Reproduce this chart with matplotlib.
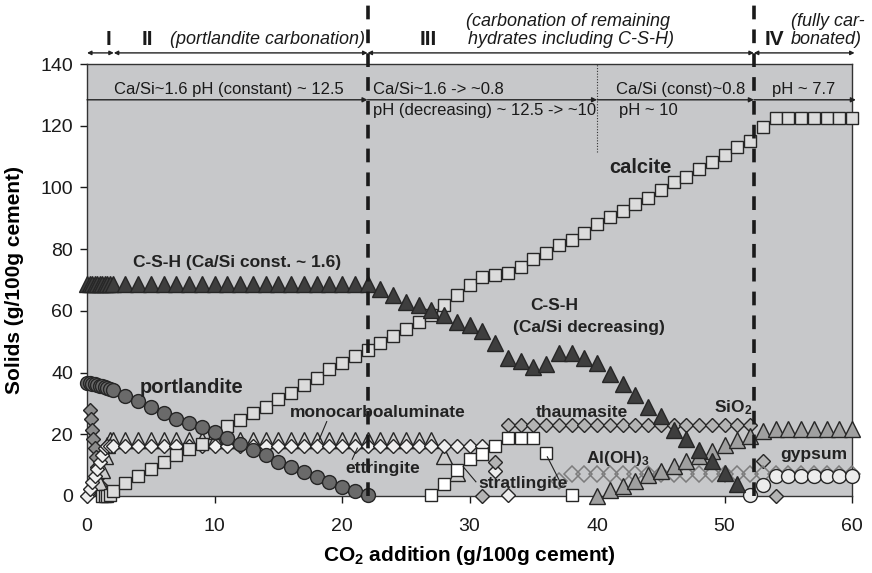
import matplotlib
matplotlib.use('Agg')
import matplotlib.pyplot as plt

plt.rcParams['font.family'] = ['Liberation Sans', 'DejaVu Sans']
plt.rcParams['mathtext.fontset'] = 'custom'
plt.rcParams['mathtext.rm'] = 'Liberation Sans'
plt.rcParams['mathtext.bf'] = 'Liberation Sans:bold'
plt.rcParams['mathtext.it'] = 'Liberation Sans:italic'

# CO2 steps used in period I (fine steps)
region1_x = [0, 0.2, 0.4, 0.6, 0.8, 1.0, 1.2, 1.4, 1.6, 1.8]

calcite_x = [1.2, 1.4, 1.6, 1.8] + list(range(2, 61))
calcite_y = [0, 0, 0, 0.3,
             1.7, 4.3, 6.5, 8.7, 11.0, 13.2, 15.2, 17.0, 20.3, 22.6, 24.5,
             27.0, 29.0, 31.3, 33.5, 36.0, 38.4, 41.0, 43.2, 45.3, 47.4,
             49.6, 51.7, 54.2, 56.5, 58.7, 62.0, 65.2, 68.4, 71.0, 71.6,
             72.2, 74.3, 76.7, 78.8, 81.3, 83.0, 85.3, 88.0, 90.3, 92.4,
             94.5, 96.7, 99.3, 101.7, 103.5, 106.0, 108.2, 110.6, 113.0, 115.2,
             119.5, 122.5, 122.5, 122.5, 122.5, 122.5, 122.5, 122.5]

portlandite_x = region1_x + list(range(2, 23))
portlandite_y = [36.6, 36.5, 36.4, 36.2, 36.0, 35.8, 35.6, 35.4, 35.1, 34.8,
                 34.5, 32.4, 30.7, 28.7, 27.0, 25.1, 23.8, 22.2, 20.6, 18.7, 16.8,
                 14.8, 13.2, 11.0, 9.3, 7.7, 6.1, 4.5, 3.0, 1.7, 0.3]

csh_x = region1_x + list(range(2, 52))
csh_y = [68.8, 68.8, 68.8, 68.8, 68.8, 68.8, 68.8, 68.8, 68.8, 68.8,
         68.8, 68.8, 68.8, 68.8, 68.8, 68.8, 68.8, 68.8, 68.8, 68.8, 68.8,
         68.8, 68.8, 68.8, 68.8, 68.8, 68.8, 68.8, 68.8, 68.8, 68.8,
         67.0, 65.0, 62.8, 62.0, 60.3, 58.8, 56.5, 55.4, 53.6, 49.5,
         44.7, 43.8, 41.9, 42.8, 46.5, 46.5, 44.8, 43.2, 39.6, 36.2,
         32.7, 29.0, 25.8, 21.5, 18.5, 14.9, 11.2, 7.3, 3.8]

monocarb_x = [1.0, 1.2, 1.4, 1.6, 1.8] + list(range(2, 30))
monocarb_y = [4.0, 8.5, 13.0, 16.5, 18.0,
              18.0, 18.0, 18.0, 18.0, 18.0, 18.0, 18.0, 18.0, 18.0, 18.0,
              18.0, 18.0, 18.0, 18.0, 18.0, 18.0, 18.0, 18.0, 18.0, 18.0,
              18.0, 18.0, 18.0, 18.0, 18.0, 18.0, 13.0, 7.6]

ettringite_x = region1_x + list(range(2, 34))
ettringite_y = [0, 2.2, 4.4, 6.6, 8.8, 11.0, 13.2, 15.4, 16.2, 16.2,
                16.2, 16.2, 16.2, 16.2, 16.2, 16.2, 16.2, 16.2, 16.2, 16.2,
                16.2, 16.2, 16.2, 16.2, 16.2, 16.2, 16.2, 16.2, 16.2, 16.2,
                16.2, 16.2, 16.2, 16.2, 16.2, 16.2, 16.2, 16.2, 16.2, 16.2,
                8.2, 0.3]

monosulfate_x = [0.2, 0.3, 0.4, 0.5, 0.6, 0.7, 0.8, 0.9, 1.0, 1.1]
monosulfate_y = [28.0, 25.0, 21.5, 18.5, 15.5, 12.5, 9.5, 6.5, 3.5, 0.5]

thaumasite_x = list(range(31, 55))
thaumasite_y = [0, 11.0,
                23.0, 23.0, 23.0, 23.0, 23.0, 23.0, 23.0, 23.0, 23.0, 23.0,
                23.0, 23.0, 23.0, 23.0, 23.0, 23.0, 23.0, 23.0, 23.0, 23.0,
                11.4, 0]

stratlingite_x = [27, 28, 29, 30, 31, 32, 33, 34, 35, 36, 38]
stratlingite_y = [0.4, 4.0, 8.5, 12.1, 13.5, 16.1, 18.8, 18.8, 18.8, 14.0, 0.2]

aloh3_x = list(range(37, 61))
aloh3_y = [4.8, 7.1, 7.1, 7.1, 7.1, 7.1, 7.1, 7.1, 7.1, 7.1, 7.1, 7.1,
           7.1, 7.1, 7.1, 7.1, 7.1, 7.1, 7.1, 7.1, 7.1, 7.1, 7.1, 7.1]

sio2_x = list(range(40, 61))
sio2_y = [0, 2.1, 3.3, 5.0, 6.7, 8.1, 9.6, 11.3, 13.1, 14.7, 16.5, 18.0,
          19.6, 21.0, 21.6, 21.6, 21.6, 21.6, 21.6, 21.6, 21.6]

gypsum_x = list(range(52, 61))
gypsum_y = [0.3, 3.6, 6.5, 6.5, 6.5, 6.5, 6.5, 6.5, 6.5]

# period boundaries (g CO2 / 100 g cement)
period_bounds = [0, 2.1, 22, 52.3, 60.2]
ph_bounds = [0, 22, 40, 52.3, 60.3]

edge = '#262626'
fig = plt.figure(figsize=(8.72, 5.73), dpi=100)
ax = fig.add_axes([0.0998, 0.1344, 0.8773, 0.7539])
ax.set_facecolor('#c7c8ca')
ax.set_xlim(0, 60)
ax.set_ylim(0, 140)


def draw(x, y, marker, ms, face, z, mec=edge, mew=1.0):
    ax.plot(x, y, linestyle='none', marker=marker, markersize=ms,
            markerfacecolor=face, markeredgecolor=mec, markeredgewidth=mew,
            zorder=z, clip_on=False)


draw(monosulfate_x, monosulfate_y, 'D', 7.0, '#8c8c8c', 3)
draw(monocarb_x, monocarb_y, '^', 11, '#cdcdcd', 3)
draw(ettringite_x, ettringite_y, 'D', 7.2, '#efefef', 4)
draw(thaumasite_x, thaumasite_y, 'D', 7.2, '#b4b4b4', 4)
draw(aloh3_x, aloh3_y, 'D', 8.4, 'none', 4, mec='#7c7c7c', mew=1.1)
draw(stratlingite_x, stratlingite_y, 's', 9, '#ffffff', 5)
draw(sio2_x, sio2_y, '^', 11, '#a0a0a0', 5)
draw(gypsum_x, gypsum_y, 'o', 10, '#ececec', 5)
draw(calcite_x, calcite_y, 's', 9, '#dcdcdc', 6)
draw(csh_x, csh_y, '^', 11, '#3e3e3e', 6)
draw(portlandite_x, portlandite_y, 'o', 10, '#6a6a6a', 7)

# period boundaries as thick dashed lines, running up into the header
for xb in [period_bounds[2], period_bounds[3]]:
    ax.plot([xb, xb], [0, 159], color='#1a1a1a', lw=2.6,
            linestyle=(0, (3.8, 2.8)), zorder=9, clip_on=False)
ax.plot([40, 40], [111.5, 140], color='#333333', lw=0.8, linestyle=(0, (1, 1.5)), zorder=2)

# header arrows for the four periods
for a, b in zip(period_bounds[:-1], period_bounds[1:]):
    ax.annotate('', xy=(b, 143.6), xytext=(a, 143.6), annotation_clip=False,
                arrowprops=dict(arrowstyle='<|-|>', color='#222222', lw=1.0,
                                mutation_scale=6, shrinkA=0, shrinkB=0))
# pH / Ca/Si arrows inside the plot
for a, b in zip(ph_bounds[:-1], ph_bounds[1:]):
    ax.annotate('', xy=(b, 128.4), xytext=(a, 128.4), annotation_clip=False,
                arrowprops=dict(arrowstyle='-|>', color='#222222', lw=1.0,
                                mutation_scale=7, shrinkA=0, shrinkB=0))

roman = dict(fontsize=15, fontweight='bold', ha='center', va='center', color='#1a1a1a')
ax.text(1.65, 148, 'I', clip_on=False, **roman)
ax.text(4.7, 148, 'II', clip_on=False, **roman)
ax.text(26.8, 148, 'III', clip_on=False, **roman)
ax.text(53.9, 148, 'IV', clip_on=False, **roman)

ital = dict(fontsize=13, fontstyle='italic', ha='left', va='center', color='#1a1a1a')
ax.text(6.5, 148, '(portlandite carbonation)', **ital)
ax.text(29.7, 153.8, '(carbonation of remaining', **ital)
ax.text(29.85, 148, 'hydrates including C-S-H)', **ital)
ax.text(55.2, 153.8, '(fully car-', **ital)
ax.text(55.2, 148, 'bonated)', **ital)

note = dict(fontsize=12, color='#1a1a1a')
ax.text(11.1, 129.3, 'Ca/Si~1.6 pH (constant) ~ 12.5', ha='center', va='bottom', **note)
ax.text(22.4, 129.3, 'Ca/Si~1.6 -> ~0.8', ha='left', va='bottom', **note)
ax.text(22.4, 127.2, 'pH (decreasing) ~ 12.5 -> ~10', ha='left', va='top', **note)
ax.text(51.6, 129.3, 'Ca/Si (const)~0.8', ha='right', va='bottom', **note)
ax.text(41.7, 127.2, 'pH ~ 10', ha='left', va='top', **note)
ax.text(56.2, 129.3, 'pH ~ 7.7', ha='center', va='bottom', **note)

big = dict(fontsize=14.5, fontweight='bold', color='#222222', va='center', zorder=10)
lab = dict(fontsize=12.5, fontweight='bold', color='#222222', va='center', zorder=10)
ax.text(43.4, 106.5, 'calcite', ha='center', **big)
ax.text(8.2, 35.2, 'portlandite', ha='center', **big)
ax.text(3.6, 75.8, 'C-S-H (Ca/Si const. ~ 1.6)', ha='left', **lab)
ax.text(34.8, 61.6, 'C-S-H', ha='left', **lab)
ax.text(33.4, 54.6, '(Ca/Si decreasing)', ha='left', **lab)
ax.text(22.8, 27.2, 'monocarboaluminate', ha='center', **lab)
ax.text(23.2, 8.8, 'ettringite', ha='center', **lab)
ax.text(38.8, 27.0, 'thaumasite', ha='center', **lab)
ax.text(41.6, 12.3, r'Al(OH)$_\mathbf{3}$', ha='center', **lab)
ax.text(34.2, 3.9, 'stratlingite', ha='center', **lab)
ax.text(50.7, 28.7, r'SiO$_\mathbf{2}$', ha='center', **lab)
ax.text(57.0, 13.3, 'gypsum', ha='center', **lab)

# leader lines from labels to their series
leaders = [((18.8, 24.1), (18.2, 18.2)),
           ((20.8, 11.9), (21.2, 15.5)),
           ((30.5, 4.6), (29.5, 9.5)),
           ((37.1, 4.6), (36.1, 12.7))]
for (x0, y0), (x1, y1) in leaders:
    ax.plot([x0, x1], [y0, y1], color='#222222', lw=0.8, zorder=9)

ax.set_xticks([0, 10, 20, 30, 40, 50, 60])
ax.set_yticks([0, 20, 40, 60, 80, 100, 120, 140])
ax.tick_params(axis='both', direction='out', length=5, width=1, labelsize=14, colors='#1a1a1a')
ax.tick_params(axis='x', pad=11)
ax.tick_params(axis='y', pad=5)
for s in ax.spines.values():
    s.set_color('#333333')
    s.set_linewidth(1.0)

ax.set_xlabel(r'CO$_\mathbf{2}$ addition (g/100g cement)', fontsize=15, fontweight='bold')
ax.set_ylabel('Solids (g/100g cement)', fontsize=15, fontweight='bold')
ax.xaxis.set_label_coords(0.5, -0.11)
ax.yaxis.set_label_coords(-0.083, 0.5)

fig.savefig('out.png', dpi=100)
